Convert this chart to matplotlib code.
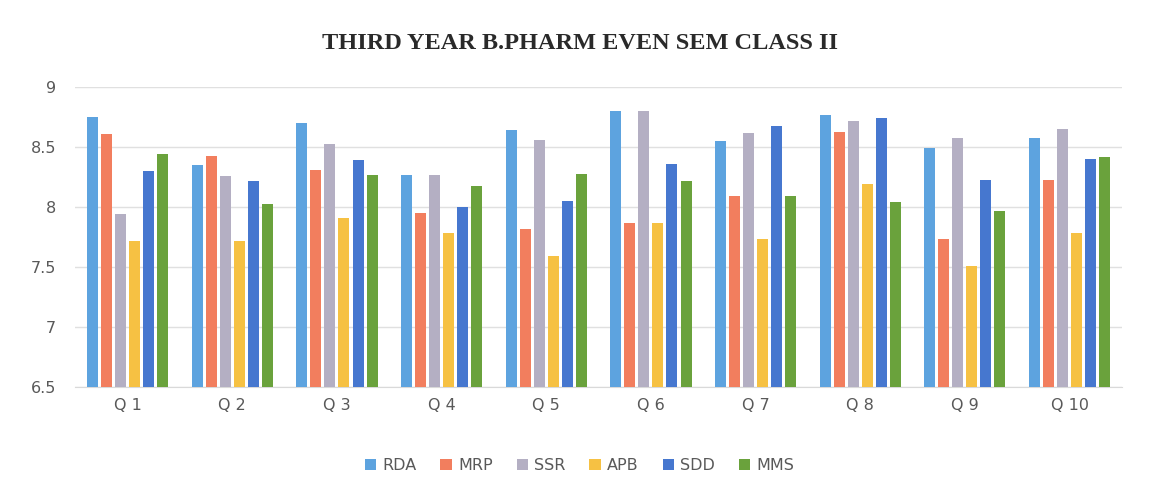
import numpy as np
import matplotlib.pyplot as plt

# Valores
preguntas = ["Q 1", "Q 2", "Q 3", "Q 4", "Q 5", "Q 6", "Q 7", "Q 8", "Q 9", "Q 10"]
rda = [8.75, 8.35, 8.70, 8.27, 8.64, 8.80, 8.55, 8.77, 8.49, 8.58]
mrp = [8.61, 8.43, 8.31, 7.95, 7.82, 7.87, 8.09, 8.63, 7.73, 8.23]
ssr = [7.94, 8.26, 8.53, 8.27, 8.56, 8.80, 8.62, 8.72, 8.58, 8.65]
apb = [7.72, 7.72, 7.91, 7.78, 7.59, 7.87, 7.73, 8.19, 7.51, 7.78]
sdd = [8.30, 8.22, 8.39, 8.00, 8.05, 8.36, 8.68, 8.74, 8.23, 8.40]
mms = [8.44, 8.03, 8.27, 8.18, 8.28, 8.22, 8.09, 8.04, 7.97, 8.42]

series = ["RDA", "MRP", "SSR", "APB", "SDD", "MMS"]
valores = [rda, mrp, ssr, apb, sdd, mms]
colores = ["#5DA3DF", "#F27E5E", "#B4AFC3", "#F6C143", "#4677CF", "#6AA23C"]

fig = plt.figure(figsize=(11.59, 4.96), dpi=100)
ax = fig.add_axes([0.065, 0.22, 0.903, 0.604])

x = np.arange(len(preguntas))
paso = 0.134
ancho = 0.105
for i in range(len(series)):
    ax.bar(x + (i - 2.5) * paso, np.array(valores[i]) - 6.5, bottom=6.5,
           width=ancho, color=colores[i], label=series[i], zorder=3)

ax.set_ylim(6.5, 9)
ax.set_xlim(-0.5, len(preguntas) - 0.5)
ax.set_yticks([6.5, 7, 7.5, 8, 8.5, 9])
ax.set_yticklabels(["6.5", "7", "7.5", "8", "8.5", "9"])
ax.set_xticks(x)
ax.set_xticklabels(preguntas)
ax.grid(axis="y", color="#E0E0E0", linewidth=1, zorder=0)
for s in ["top", "right", "left"]:
    ax.spines[s].set_visible(False)
ax.spines["bottom"].set_color("#D9D9D9")
ax.tick_params(axis="both", length=0, labelsize=11.5, colors="#595959", pad=8)
ax.tick_params(axis="y", pad=14)

fig.text(0.5, 0.912, "THIRD YEAR B.PHARM EVEN SEM CLASS II", ha="center", va="center",
         fontsize=17.5, fontweight="bold", family="Liberation Serif", color="#2A2A2A")

fig.legend(loc="center", bbox_to_anchor=(0.5, 0.062), ncol=6, frameon=False,
           fontsize=11.5, handlelength=0.7, handleheight=0.7, columnspacing=1.5,
           handletextpad=0.4, labelcolor="#595959")

fig.savefig("out.png", dpi=100)
